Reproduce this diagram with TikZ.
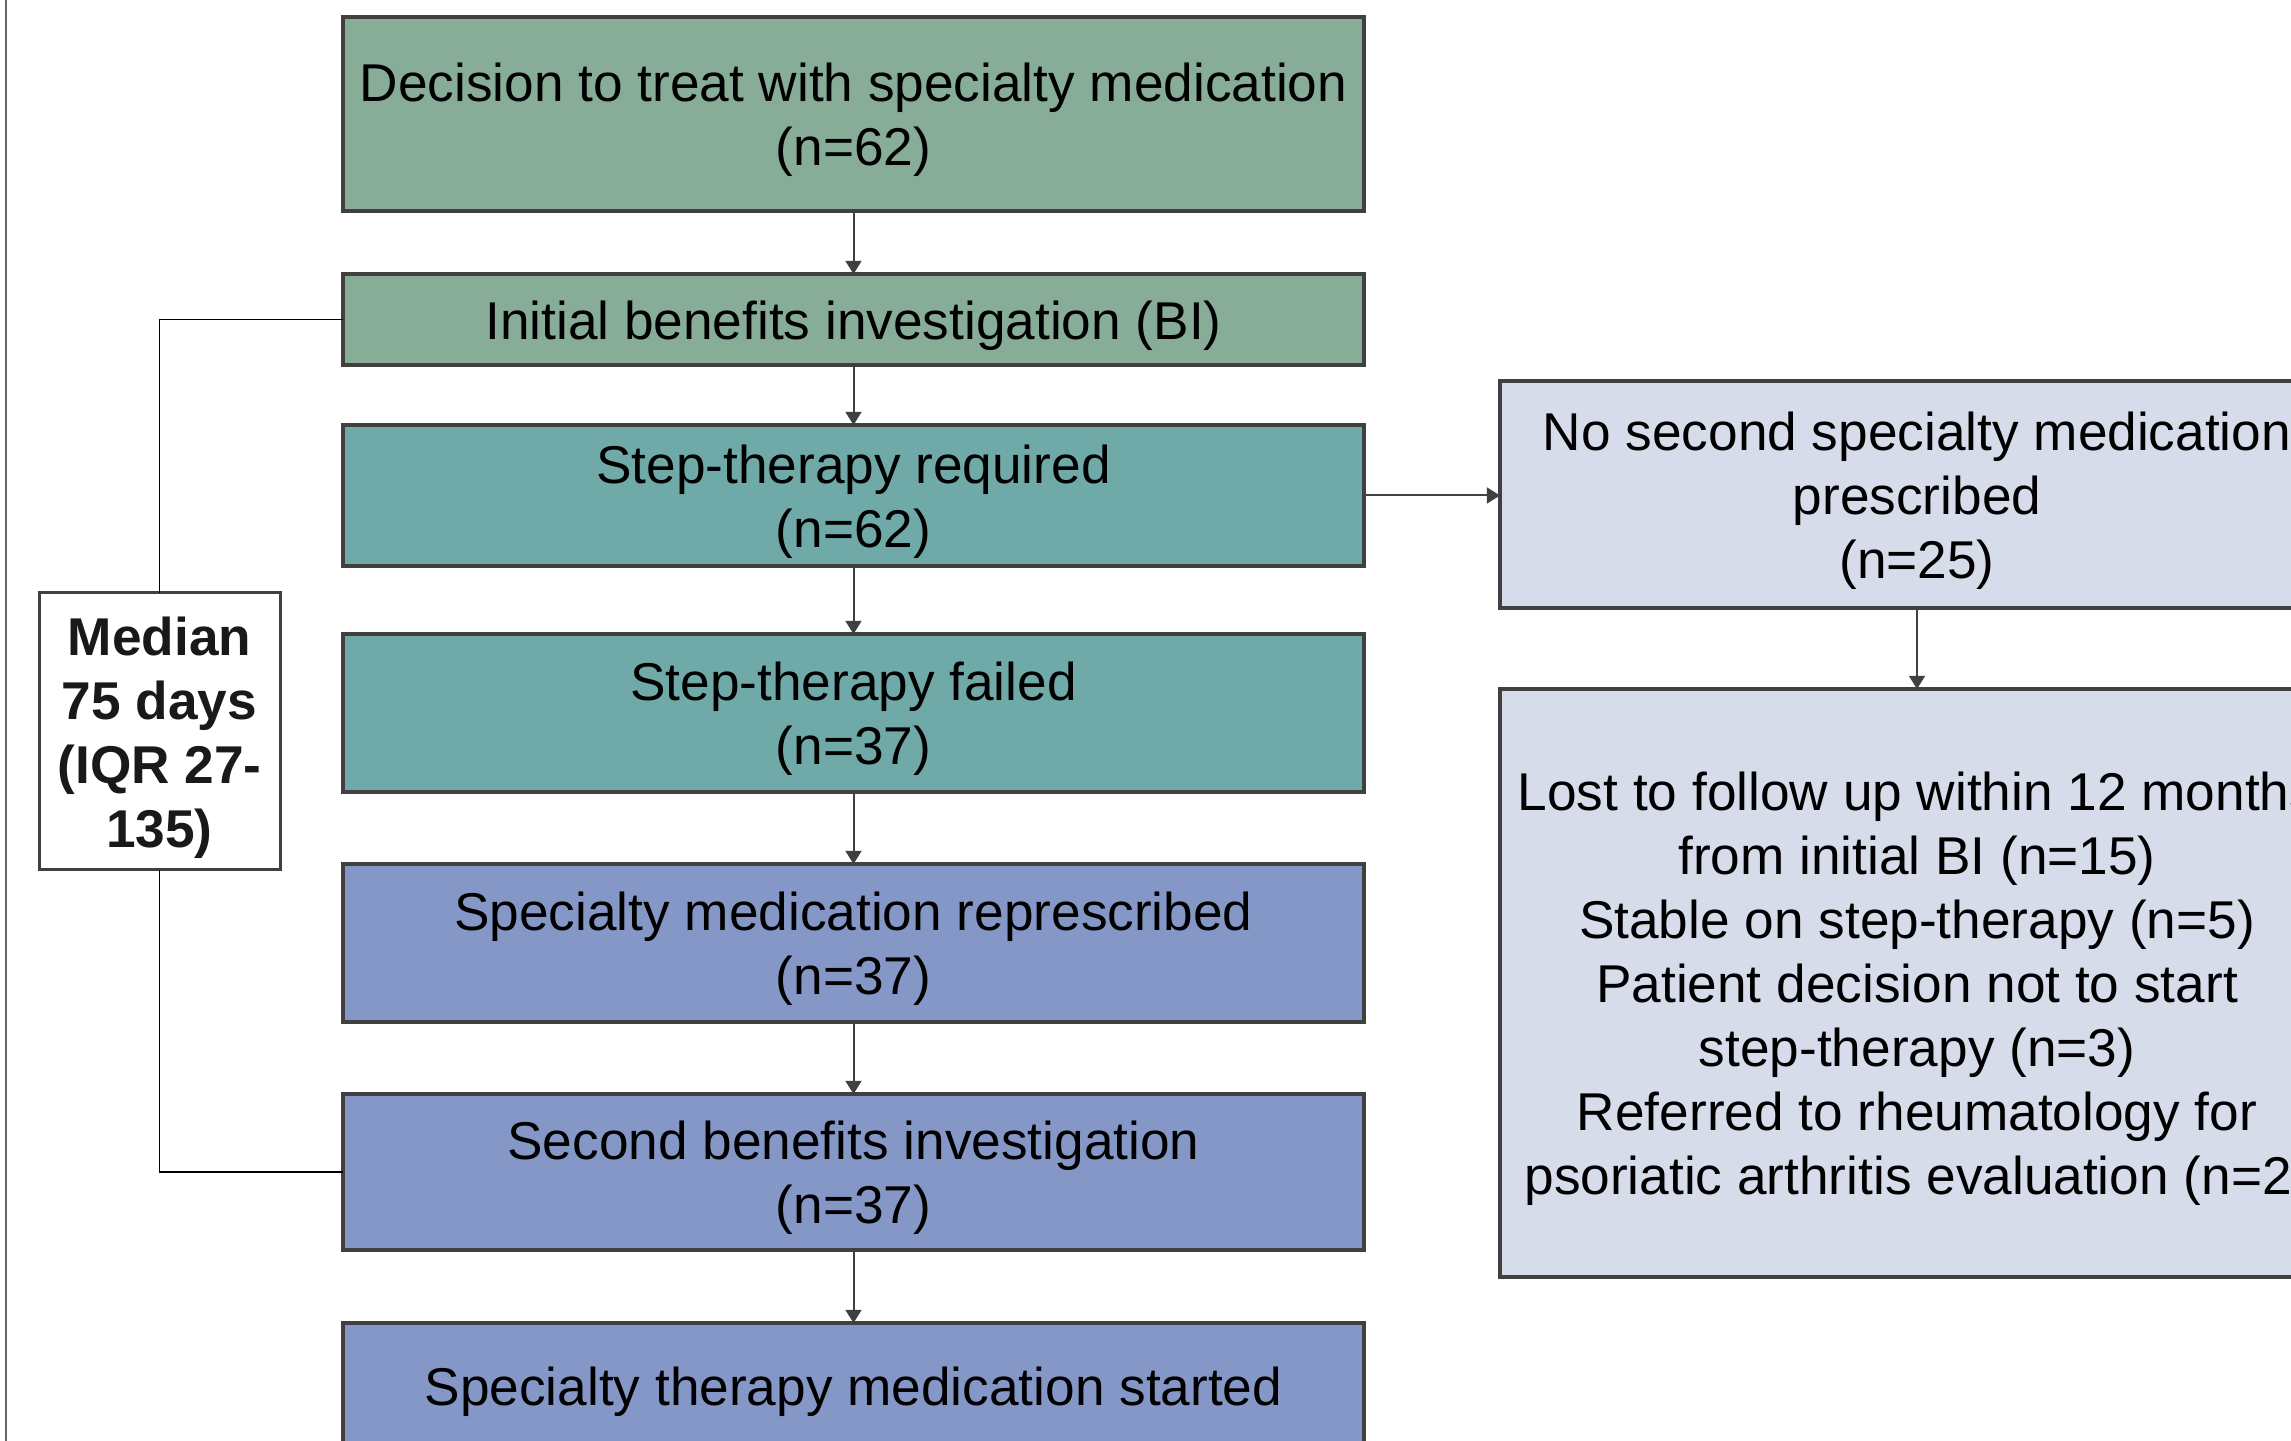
\documentclass[tikz,border=0pt]{standalone}
\usepackage{fontspec}
\setmainfont{Liberation Sans}
\usetikzlibrary{arrows.meta}
\definecolor{boxgreen}{RGB}{135,172,152}
\definecolor{boxteal}{RGB}{111,169,168}
\definecolor{boxblue}{RGB}{132,151,198}
\definecolor{boxpale}{RGB}{214,220,234}
\definecolor{edge}{RGB}{64,64,64}
\tikzset{
  flowbox/.style={draw=edge, line width=1pt, inner sep=0pt, outer sep=0pt,
    minimum width=255.25pt},
  sidebox/.style={flowbox, fill=boxpale, minimum width=208.5pt},
  boxtext/.style={align=center, inner sep=0pt, yshift=-1.5pt,
    font=\fontsize{13.3}{16}\selectfont},
  medtext/.style={boxtext, font=\fontsize{13.3}{16}\selectfont\bfseries, text=black!90},
  medbox/.style={draw=edge, line width=0.75pt, fill=white, inner sep=0pt, outer sep=0pt,
    minimum width=60.25pt, minimum height=69.25pt},
  flowarrow/.style={draw=edge, line width=0.5pt, -{Triangle[length=3.3pt,width=4pt]}},
  bracket/.style={draw=black, line width=0.4pt}
}
\begin{document}
\begin{tikzpicture}[x=0.25pt,y=-0.25pt]
\useasboundingbox (0,0) rectangle (2291,1441);
\clip (0,0) rectangle (2291,1441);
\fill[white] (0,0) rectangle (2291,1441);
\draw[edge!80, line width=0.5pt] (6,0) -- (6,1441);

\node[flowbox, fill=boxgreen, minimum height=48.5pt,
  label={[boxtext]center:{Decision to treat with specialty medication\\(n=62)}}] (b1) at (853.5,114) {};
\node[flowbox, fill=boxgreen, minimum height=22.75pt,
  label={[boxtext]center:{Initial benefits investigation (BI)}}] (b2) at (853.5,319.5) {};
\node[flowbox, fill=boxteal, minimum height=35.25pt,
  label={[boxtext]center:{Step-therapy required\\(n=62)}}] (b3) at (853.5,495.5) {};
\node[flowbox, fill=boxteal, minimum height=39.5pt,
  label={[boxtext]center:{Step-therapy failed\\(n=37)}}] (b4) at (853.5,713) {};
\node[flowbox, fill=boxblue, minimum height=39.5pt,
  label={[boxtext]center:{Specialty medication represcribed\\(n=37)}}] (b5) at (853.5,943) {};
\node[flowbox, fill=boxblue, minimum height=39pt,
  label={[boxtext]center:{Second benefits investigation\\(n=37)}}] (b6) at (853.5,1172) {};
\node[flowbox, fill=boxblue, minimum height=31.5pt,
  label={[boxtext]center:{Specialty therapy medication started}}] (b7) at (853.5,1386) {};

\node[sidebox, minimum height=56.75pt,
  label={[boxtext]center:{No second specialty medication\\prescribed\\(n=25)}}] (r1) at (1917,494.5) {};
\node[sidebox, minimum height=147pt,
  label={[boxtext]center:{Lost to follow up within 12 months\\from initial BI (n=15)\\Stable on step-therapy (n=5)\\Patient decision not to start\\step-therapy (n=3)\\Referred to rheumatology for\\psoriatic arthritis evaluation (n=2)}}] (r2) at (1917,983) {};

\node[medbox, label={[medtext]center:{Median\\75 days\\(IQR 27-\\135)}}] (med) at (159.5,731.5) {};

\draw[flowarrow] (b1) -- (b2);
\draw[flowarrow] (b2) -- (b3);
\draw[flowarrow] (b3) -- (b4);
\draw[flowarrow] (b4) -- (b5);
\draw[flowarrow] (b5) -- (b6);
\draw[flowarrow] (b6) -- (b7);
\draw[flowarrow] (b3.east) -- (r1.west |- b3.east);
\draw[flowarrow] (r1) -- (r2);

\draw[bracket] (b2.west) -| (med.north);
\draw[bracket] (med.south) |- (b6.west);
\end{tikzpicture}
\end{document}
